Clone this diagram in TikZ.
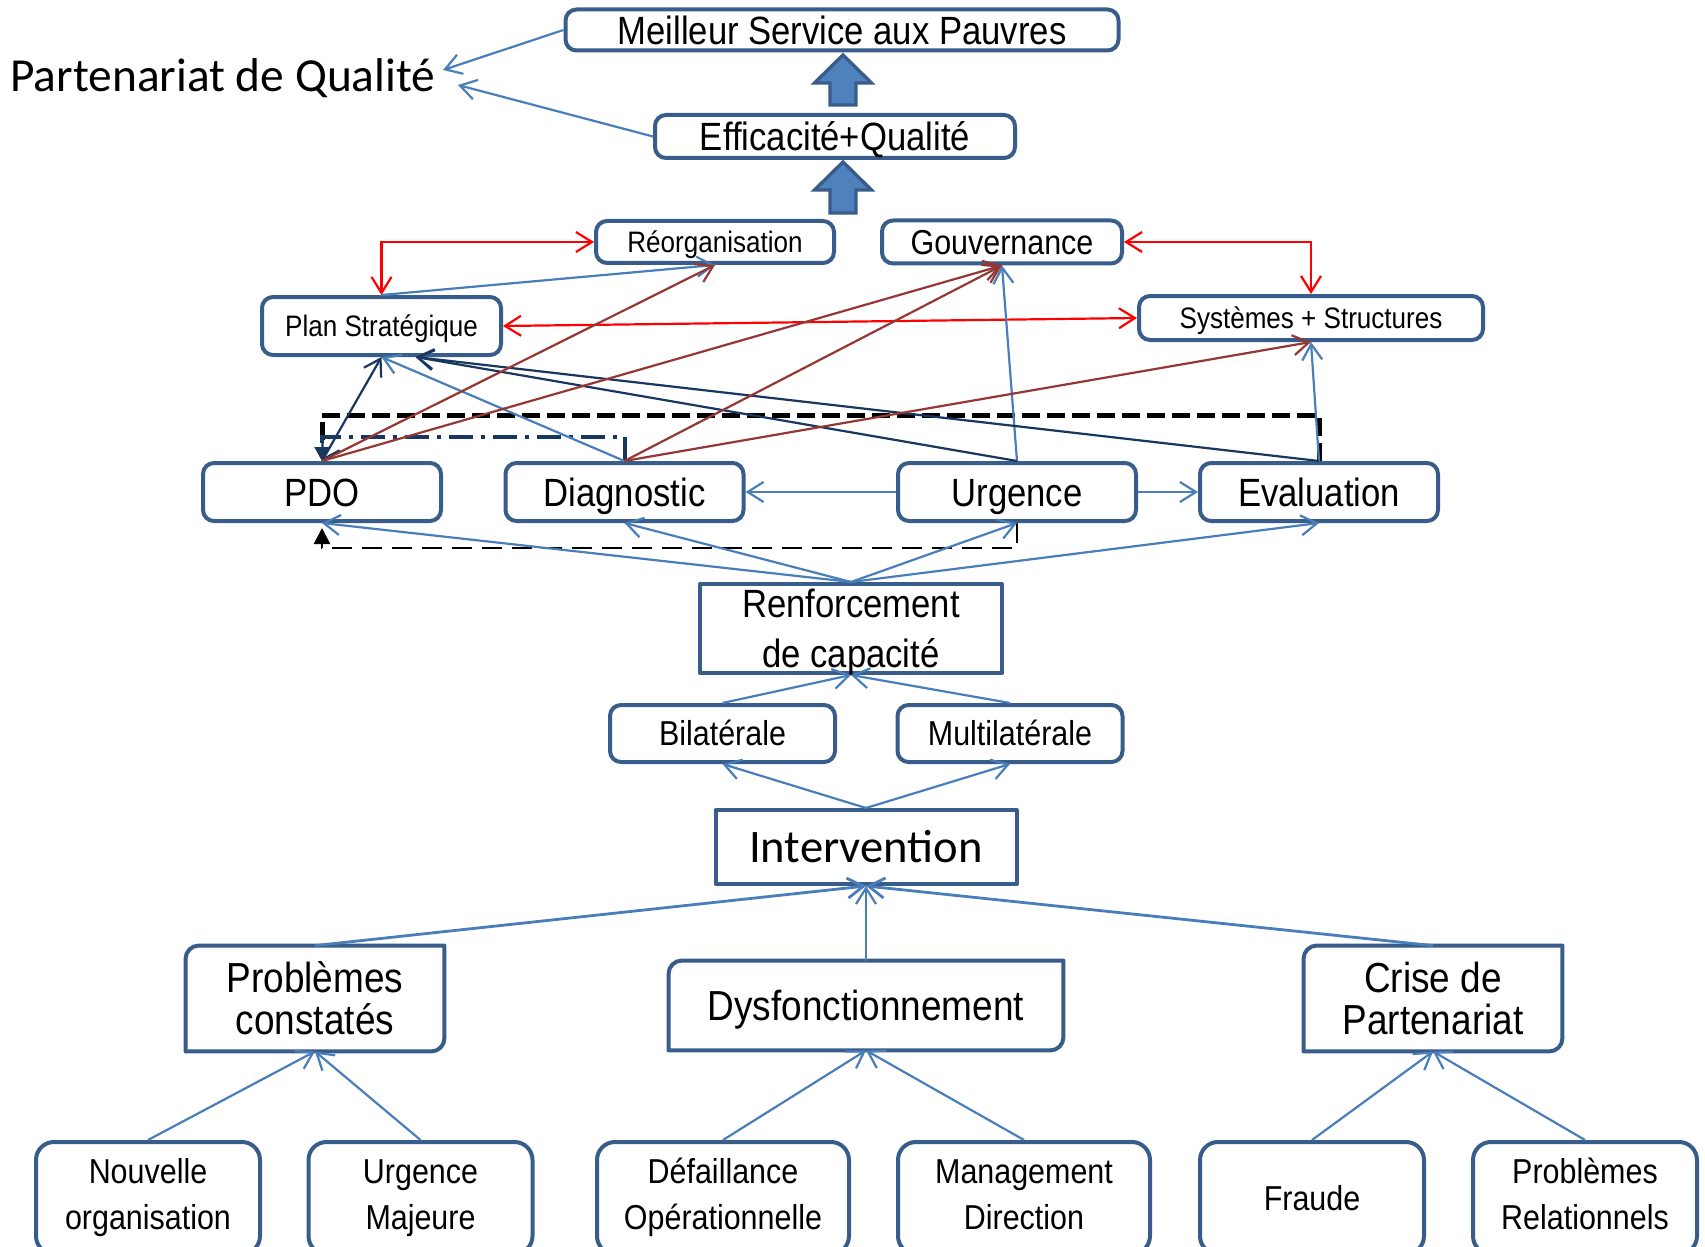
\documentclass[tikz,border=0pt]{standalone}
\usepackage{fontspec}
\setmainfont[FakeStretch=0.88]{Liberation Sans}
\newfontfamily\calibfont{Carlito}
\usetikzlibrary{arrows.meta,calc}
\definecolor{bordc}{HTML}{385D8A}
\definecolor{bluc}{HTML}{4A7EBB}
\definecolor{brnc}{HTML}{953735}
\definecolor{navyc}{HTML}{17375E}
\definecolor{fillc}{HTML}{4F81BD}
\newcommand\lstrut{\rule[-4pt]{0pt}{16pt}}
\newcommand\tlbrbox[2]{%
 \draw[bord] ($(#1.north west)+(0,#2)$) .. controls ($(#1.north west)+(0,0.45*#2)$) and ($(#1.north west)+(0.45*#2,0)$) .. ($(#1.north west)+(#2,0)$) -- (#1.north east) -- ($(#1.south east)+(0,-#2)$) .. controls ($(#1.south east)+(0,-0.45*#2)$) and ($(#1.south east)+(-0.45*#2,0)$) .. ($(#1.south east)+(-#2,0)$) -- (#1.south west) -- cycle;}
\tikzset{
 bord/.style={draw=bordc, line width=2pt, line join=round},
 rbox/.style={bord, rounded corners=5.5pt, fill=white, inner sep=0pt, align=center},
 sqbox/.style={bord, fill=white, inner sep=0pt, align=center},
 leafbox/.style={bord, rounded corners=9pt, fill=white, inner sep=0pt, align=center, minimum height=56pt, font=\fontsize{17.3}{23}\selectfont},
 plainbox/.style={fill=white, inner sep=0pt, align=center},
 fA/.style={font=\fontsize{19.7}{24}\selectfont, text height=17.1pt, text depth=3pt},
 fS/.style={font=\fontsize{14.8}{18}\selectfont, text height=13.1pt, text depth=2.5pt},
 fM/.style={font=\fontsize{17.3}{21}\selectfont, text height=15.4pt, text depth=3pt},
 fL/.style={font=\fontsize{21}{21}\selectfont},
 fLone/.style={font=\fontsize{21}{21}\selectfont, text height=18pt, text depth=3pt},
 blu/.style={draw=bluc, line width=1.1pt, ->},
 redc/.style={draw=red, line width=1.1pt, <->},
 brn/.style={draw=brnc, line width=1.1pt, ->},
 nav/.style={draw=navyc, line width=1.1pt, ->},
 blockarr/.style={fill=fillc, draw=bordc, line width=1.7pt, line join=miter},
 thickdash/.style={draw=black, line width=2.5pt, dash pattern=on 9pt off 3.5pt, -{Triangle[length=7pt,width=7pt]}},
 thindash/.style={draw=black, line width=1.2pt, dash pattern=on 10pt off 5pt, -{Triangle[length=8pt,width=8pt]}},
 dashdot/.style={draw=navyc, line width=2pt, dash pattern=on 12pt off 4pt on 2pt off 4pt, -{Triangle[length=7pt,width=7pt]}},
}
\begin{document}
\begin{tikzpicture}[x=0.5pt,y=-0.5pt,>={Straight Barb[length=8pt,width=10pt]}]
\clip (0,0) rectangle (1705,1247);
\fill[white] (0,0) rectangle (1705,1247);

% nodes
\node[anchor=base west, inner sep=0pt, font=\calibfont\fontsize{23.7}{28}\selectfont] (partxt) at (10,92) {Partenariat de Qualité};
\node[rbox, fA, minimum width=276.5pt, minimum height=20.5pt] (meil) at (842,30) {Meilleur Service aux Pauvres};
\node[rbox, fA, minimum width=180pt, minimum height=21.5pt] (effi) at (835,136.5) {Efficacité+Qualité};
\node[rbox, fS, minimum width=119pt, minimum height=21pt] (reorg) at (715,242) {Réorganisation};
\node[rbox, fM, minimum width=120pt, minimum height=21.5pt] (gouv) at (1002,242) {Gouvernance};
\node[rbox, fS, minimum width=119.5pt, minimum height=29pt] (plan) at (381.5,326) {Plan Stratégique};
\node[rbox, fS, minimum width=172pt, minimum height=22pt] (syst) at (1311,318) {Systèmes + Structures};
\node[rbox, fA, minimum width=119pt, minimum height=29pt] (pdo) at (322,492) {PDO};
\node[rbox, fA, minimum width=119pt, minimum height=29pt] (diag) at (624.5,492) {Diagnostic};
\node[rbox, fA, minimum width=119pt, minimum height=29pt] (urg) at (1017,492) {Urgence};
\node[rbox, fA, minimum width=119pt, minimum height=29pt] (eval) at (1319,492) {Evaluation};
\node[sqbox, minimum width=151pt, minimum height=44.5pt] (renf) at (851,628.5) {};
\node[anchor=north, inner sep=0pt, align=center, font=\fontsize{19.7}{25}\selectfont] (renftxt) at (851,589) {Renforcement\\de capacité};
\node[rbox, fM, minimum width=112.5pt, minimum height=28.5pt] (bila) at (722.5,733.5) {Bilatérale};
\node[rbox, fM, minimum width=112.5pt, minimum height=28.5pt] (mult) at (1010,733.5) {Multilatérale};
\node[sqbox, font=\calibfont\fontsize{23.3}{28}\selectfont, text height=18pt, text depth=3pt, minimum width=150.5pt, minimum height=37pt] (inter) at (866,847) {Intervention};
\node[plainbox, fL, minimum width=129pt, minimum height=52.5pt] (prob) at (315,998.5) {Problèmes\\constatés};
\node[plainbox, fLone, minimum width=197pt, minimum height=44.5pt] (dysf) at (866,1005.5) {Dysfonctionnement};
\node[plainbox, fL, minimum width=129pt, minimum height=52.5pt] (crise) at (1433,998.5) {Crise de\\Partenariat};
\tlbrbox{prob}{13}
\tlbrbox{dysf}{13}
\tlbrbox{crise}{13}
\node[leafbox, minimum width=112pt] (nouv) at (148,1198) {Nouvelle\lstrut\\organisation\lstrut};
\node[leafbox, minimum width=112pt] (urgm) at (420.5,1198) {Urgence\lstrut\\Majeure\lstrut};
\node[leafbox, minimum width=126pt] (defa) at (723,1198) {Défaillance\lstrut\\Opérationnelle\lstrut};
\node[leafbox, minimum width=126pt] (mana) at (1024,1198) {Management\lstrut\\Direction\lstrut};
\node[leafbox, minimum width=112pt] (frau) at (1312,1198) {Fraude};
\node[leafbox, minimum width=112pt] (prel) at (1585,1198) {Problèmes\lstrut\\Relationnels\lstrut};

% block arrows
\draw[blockarr] (830,105) -- (830,83) -- (814.5,83) -- (843,55) -- (871.5,83) -- (856,83) -- (856,105) -- cycle;
\draw[blockarr] (830,213) -- (830,190) -- (814.5,190) -- (843,162) -- (871.5,190) -- (856,190) -- (856,213) -- cycle;

% coordinates
\coordinate (pq1) at (443,70);
\coordinate (pq2) at (458,85);
\coordinate (dk) at (0,415);
\coordinate (dd) at (0,437);
\coordinate (db) at (0,548);
\coordinate (pdoarr) at ($(pdo.south)+(0,5)$);
\coordinate (planr) at ($(plan.south)+(34,0)$);

% dashed routes
\draw[thindash] (urg.south) -- (urg.south |- db) -| (pdoarr);
\draw[thickdash] (eval.north) -- (eval.north |- dk) -| (pdo.north);
\draw[dashdot] (diag.north) -- (diag.north |- dd) -| (pdo.north);

% top connectors
\draw[blu] (meil.west) -- (pq1);
\draw[blu] (effi.west) -- (pq2);

% red
\draw[redc] (reorg.west) -| (plan.north);
\draw[redc] (gouv.east) -| (syst.north);
\draw[redc] (plan.east) -- (syst.west);

% blue upper
\draw[blu] (plan.north) -- (reorg.south);
\draw[blu] (diag.north) -- (plan.south);
\draw[blu] (urg.north) -- (gouv.south);
\draw[blu] (eval.north) -- (syst.south);
\draw[blu] (urg.west) -- (diag.east);
\draw[blu] (urg.east) -- (eval.west);

% navy
\draw[nav, <->] (plan.south) -- (pdo.north);
\draw[nav] (urg.north) -- (planr);
\draw[nav] (eval.north) -- (planr);

% brown
\draw[brn] (pdo.north) -- (reorg.south);
\draw[brn] (pdo.north) -- (gouv.south);
\draw[brn] (diag.north) -- (gouv.south);
\draw[brn] (diag.north) -- (syst.south);

% renforcement
\draw[blu] (renf.north) -- (pdo.south);
\draw[blu] (renf.north) -- (diag.south);
\draw[blu] (renf.north) -- (urg.south);
\draw[blu] (renf.north) -- (eval.south);
\draw[blu] (bila.north) -- (renf.south);
\draw[blu] (mult.north) -- (renf.south);
\draw[blu] (inter.north) -- (bila.south);
\draw[blu] (inter.north) -- (mult.south);

% lower
\draw[blu, line width=1.4pt] (prob.north) -- (inter.south);
\draw[blu] (dysf.north) -- (inter.south);
\draw[blu, line width=1.4pt] (crise.north) -- (inter.south);
\draw[blu] (nouv.north) -- (prob.south);
\draw[blu] (urgm.north) -- (prob.south);
\draw[blu] (defa.north) -- (dysf.south);
\draw[blu] (mana.north) -- (dysf.south);
\draw[blu] (frau.north) -- (crise.south);
\draw[blu] (prel.north) -- (crise.south);
\end{tikzpicture}
\end{document}
